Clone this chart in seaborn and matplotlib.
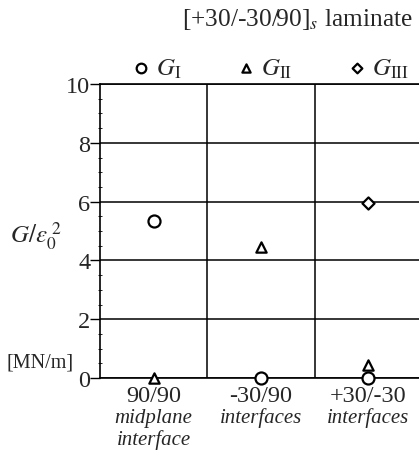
import numpy as np
import pandas as pd
import matplotlib
matplotlib.use("Agg")
import matplotlib.pyplot as plt
import seaborn as sns
from matplotlib.ticker import MultipleLocator, FixedLocator

sns.set_theme(style="white")
plt.rcParams['font.family'] = ['Liberation Serif', 'DejaVu Serif']
plt.rcParams['mathtext.fontset'] = 'stix'

categories = ["90/90", "-30/90", "+30/-30"]
sub_line1 = ["midplane", "interfaces", "interfaces"]
sub_line2 = ["interface", "", ""]
g1 = [5.35, 0.0, 0.0]
g2 = [0.0, 4.45, 0.45]
g3 = [np.nan, np.nan, 5.95]

df = pd.DataFrame({"cat": categories, "GI": g1, "GII": g2, "GIII": g3})

W, H = 419, 460
fig = plt.figure(figsize=(W / 100, H / 100), dpi=100)
ax = fig.add_axes([100 / W, 81 / H, 322 / W, 294 / H])

specs = [("GI", "o", r"$G_{\rm I}$", 75), ("GII", "^", r"$G_{\rm II}$", 55), ("GIII", "D", r"$G_{\rm III}$", 38)]
for col, mk, lab, s in specs:
    sns.scatterplot(data=df, x="cat", y=col, marker=mk, s=s, facecolor="white",
                    edgecolor="black", linewidth=1.6, label=lab, ax=ax, zorder=5, clip_on=False)

ax.set_xlim(-0.5, 2.5)
ax.set_ylim(0, 10)
ax.yaxis.set_major_locator(MultipleLocator(2))
ax.yaxis.set_minor_locator(MultipleLocator(0.5))
ax.xaxis.set_major_locator(FixedLocator([0, 1, 2]))
ax.xaxis.set_minor_locator(FixedLocator([0.5, 1.5]))
ax.set_xticklabels(categories)
for x, t1, t2 in zip(range(3), sub_line1, sub_line2):
    ax.text(x, -0.133, t1, transform=ax.get_xaxis_transform(), ha="center", va="center",
            fontsize=15, style="italic")
    if t2:
        ax.text(x, -0.207, t2, transform=ax.get_xaxis_transform(), ha="center", va="center",
                fontsize=15, style="italic")
ax.tick_params(axis="x", which="major", length=0, labelsize=17.5, pad=5)
ax.tick_params(axis="x", which="minor", direction="out", length=7, width=1, color="black")
ax.tick_params(axis="y", which="major", direction="out", length=7, width=1, color="black",
               labelsize=17.5, pad=0, left=True)
ax.tick_params(axis="y", which="minor", direction="inout", length=3, width=0.6, color="black", left=True)
ax.set_xlabel("")
ax.set_ylabel("")
ax.yaxis.grid(True, which="major", color="black", linewidth=1.1)
ax.xaxis.grid(True, which="minor", color="black", linewidth=1.1)
ax.set_axisbelow(True)
for sp in ax.spines.values():
    sp.set_color("black")
    sp.set_linewidth(1.2)

leg = ax.legend(loc="lower left", bbox_to_anchor=(0.06, 0.975), ncol=3, frameon=False,
                fontsize=18, handletextpad=0.2, columnspacing=2.2, handlelength=0.8,
                borderaxespad=0.05, markerscale=0.8)

fig.text(10 / W, 1 - 236 / H, r"$G/\varepsilon_0^{\ 2}$", fontsize=18, ha="left", va="center")
fig.text(7 / W, 1 - 363 / H, "[MN/m]", fontsize=14.5, ha="left", va="center")
fig.text(413 / W, 1 - 20 / H, r"[+30/-30/90]$_{\it s}$ laminate", fontsize=18.3, ha="right", va="center")

fig.savefig("out.png", dpi=100)
